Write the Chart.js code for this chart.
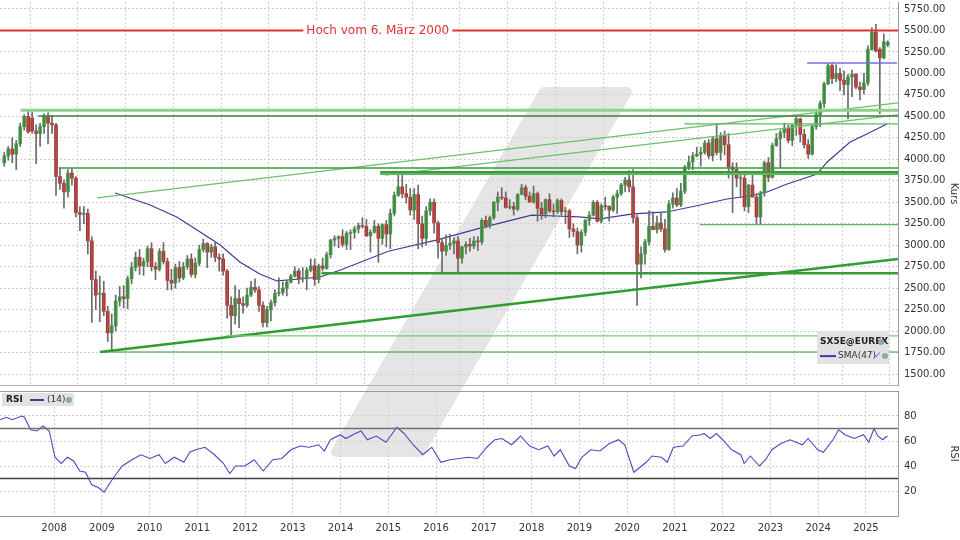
<!DOCTYPE html>
<html><head><meta charset="utf-8">
<script src="https://cdn.jsdelivr.net/npm/chart.js@4/dist/chart.umd.min.js"></script>
<style>
html,body{margin:0;padding:0;background:#fff;width:960px;height:540px;overflow:hidden;font-family:"DejaVu Sans",sans-serif}
#wm{position:absolute;left:0;top:0}
#c1{position:absolute;left:0;top:-10px}
#c2{position:absolute;left:0;top:379px}
</style></head><body>
<svg id="wm" width="960" height="540"><polygon points="544,92 627,92 420,452 336,452" fill="#e5e5e5" stroke="#e5e5e5" stroke-width="10" stroke-linejoin="round"/></svg>
<canvas id="c1" width="960" height="407"></canvas>
<canvas id="c2" width="960" height="161"></canvas>
<script>
// ---- DATA ----
const firstMonth = {year: 2006, month: 12};
const opens = [3960,
4040,4120,4060,4180,4380,4500,4480,4330,4300,4380,4500,4420,
4400,3800,3720,3620,3840,3780,3380,3360,3370,3050,2600,2430,
2440,2230,1980,2060,2350,2400,2380,2610,2740,2860,2760,2810,
2960,2750,2720,2930,2810,2590,2560,2740,2620,2750,2840,2660,
2790,2950,3020,2920,2980,2860,2840,2700,2300,2180,2380,2320,
2300,2420,2510,2480,2300,2100,2250,2330,2440,2450,2500,2570,
2640,2700,2610,2620,2710,2760,2600,2760,2730,2890,3060,3080,
3100,3010,3140,3150,3190,3230,3220,3110,3150,3220,3080,3240,
3130,3370,3580,3680,3600,3560,3410,3590,3250,3080,3400,3500,
3260,3030,2930,3000,3020,3050,2850,2980,3010,2990,3050,3040,
3290,3230,3320,3500,3560,3550,3440,3450,3420,3590,3670,3570,
3500,3600,3430,3360,3530,3400,3390,3520,3390,3400,3190,3160,
3000,3150,3290,3350,3500,3280,3460,3450,3410,3560,3600,3700,
3760,3680,3320,2780,2900,3040,3220,3180,3260,3190,2950,3480,
3550,3470,3630,3910,3970,4040,4060,4080,4190,4040,4240,4080,
4280,4170,3910,3880,3780,3780,3450,3700,3560,3330,3610,3960,
3790,4160,4240,4310,4360,4220,4400,4470,4290,4170,4060,4380,
4520,4650,4880,5090,4940,5000,4920,4870,4960,4990,4840,4810,
4890,5280,5480,5280,5180,5330];
const highs = [4080,
4150,4250,4220,4420,4520,4565,4565,4400,4420,4530,4540,4510,
4420,3900,3760,3880,3890,3800,3450,3450,3420,3100,2700,2640,
2580,2290,2200,2420,2520,2530,2640,2800,2920,2950,2850,2990,
3030,2800,2960,3030,2850,2720,2780,2810,2800,2880,2900,2850,
3000,3070,3030,3010,3040,2900,2900,2720,2400,2530,2480,2400,
2500,2580,2610,2520,2340,2290,2360,2480,2620,2570,2590,2660,
2750,2730,2740,2740,2840,2840,2780,2850,2920,3070,3110,3110,
3180,3160,3180,3220,3260,3320,3300,3180,3290,3250,3250,3290,
3420,3620,3840,3820,3710,3660,3660,3700,3340,3450,3540,3540,
3280,3080,3120,3130,3090,3100,2990,3040,3080,3100,3100,3310,
3340,3340,3510,3620,3670,3620,3530,3500,3600,3710,3700,3620,
3690,3620,3500,3540,3600,3480,3540,3540,3440,3420,3250,3200,
3180,3300,3390,3520,3520,3480,3560,3460,3580,3640,3720,3790,
3870,3880,3350,2980,3070,3400,3390,3340,3370,3300,3520,3610,
3660,3720,3930,4040,4080,4140,4140,4220,4230,4260,4420,4310,
4330,4300,3960,3960,3820,3860,3710,3820,3600,3630,3980,4020,
4190,4300,4340,4420,4400,4400,4490,4480,4350,4230,4400,4560,
4680,4900,5110,5120,5100,5060,5030,4990,5040,5000,4900,5000,
5320,5530,5570,5300,5460,5380];
const lows = [3920,
3990,3960,3880,4150,4340,4300,4300,3950,4150,4300,4180,4300,
3580,3650,3430,3560,3700,3330,3170,3250,2900,2100,2250,2110,
2180,1880,1765,2000,2290,2270,2260,2550,2700,2660,2650,2750,
2700,2600,2700,2780,2480,2480,2500,2570,2600,2720,2630,2620,
2760,2920,2740,2860,2810,2700,2650,2150,1950,2080,2040,2210,
2280,2400,2450,2230,2050,2050,2120,2290,2410,2420,2410,2560,
2630,2550,2570,2480,2690,2530,2560,2700,2720,2850,2990,2970,
2980,2950,2950,3080,3140,3200,3100,2920,3140,2800,3010,2980,
2960,3340,3570,3550,3490,3350,3300,2960,2980,3000,3350,3140,
2850,2670,2880,2950,2900,2680,2790,2900,2930,2960,2940,3010,
3200,3200,3300,3400,3530,3430,3420,3350,3400,3590,3530,3510,
3490,3280,3300,3320,3380,3330,3370,3350,3250,3090,3100,2900,
2920,3110,3230,3340,3270,3260,3410,3280,3390,3370,3580,3620,
3620,3260,2300,2620,2780,3000,3180,3140,3160,2920,2940,3430,
3450,3450,3600,3880,3880,4030,3920,4060,4010,3980,4050,3990,
4050,3780,3380,3680,3560,3400,3380,3560,3250,3250,3570,3740,
3780,4150,3900,4250,4190,4160,4280,4200,4130,4010,4050,4350,
4380,4600,4870,4880,4900,4800,4750,4470,4730,4820,4690,4760,
4860,5270,5250,4530,5170,5310];
const closes = [4040,
4120,4060,4180,4380,4500,4320,4330,4300,4380,4500,4420,4400,
3800,3720,3620,3840,3780,3380,3360,3370,3050,2600,2420,2440,
2230,1980,2060,2350,2400,2380,2610,2740,2860,2760,2810,2960,
2750,2720,2930,2810,2590,2560,2740,2620,2750,2840,2660,2790,
2950,3020,2920,2980,2860,2840,2700,2300,2180,2380,2320,2300,
2420,2510,2480,2300,2100,2250,2330,2440,2450,2500,2570,2640,
2700,2610,2620,2710,2760,2600,2760,2730,2890,3060,3080,3100,
3010,3140,3150,3190,3230,3220,3110,3150,3220,3080,3240,3130,
3370,3580,3680,3600,3560,3410,3590,3250,3080,3400,3500,3260,
3030,2930,3000,3020,3050,2850,2980,3010,2990,3050,3040,3290,
3230,3320,3500,3560,3550,3440,3450,3420,3590,3670,3570,3500,
3600,3430,3360,3530,3400,3390,3520,3390,3400,3190,3160,3000,
3150,3290,3350,3500,3280,3460,3450,3410,3560,3600,3700,3760,
3680,3320,2780,2900,3040,3220,3180,3260,3190,2950,3480,3550,
3470,3630,3910,3970,4040,4060,4080,4190,4040,4240,4080,4280,
4170,3910,3880,3780,3780,3450,3700,3560,3330,3610,3960,3790,
4160,4240,4310,4360,4220,4400,4470,4290,4170,4060,4380,4520,
4650,4880,5090,4940,5000,4920,4870,4960,4990,4840,4810,4890,
5280,5480,5260,5180,5370,5360];
const smaYears = [2009.28,2010.01,2010.57,2011.06,2011.48,2011.89,2012.31,2012.67,2013.15,2013.57,2014.0,2015.0,2016.0,2017.0,2018.0,2018.5,2019.0,2019.43,2020.12,2020.83,2021.53,2022.09,2022.57,2022.93,2023.35,2023.98,2024.19,2024.67,2025.02,2025.44];
const smaValues = [3608,3468,3329,3154,3003,2805,2665,2584,2607,2630,2712,2930,3060,3210,3350,3340,3330,3306,3364,3387,3468,3538,3573,3620,3713,3829,3969,4202,4295,4411];
const rsiYears = [2006.87,2007.0,2007.13,2007.32,2007.38,2007.51,2007.64,2007.77,2007.90,2008.02,2008.15,2008.28,2008.41,2008.54,2008.66,2008.79,2008.92,2009.05,2009.18,2009.31,2009.43,2009.63,2009.82,2010.01,2010.20,2010.33,2010.52,2010.72,2010.84,2010.97,2011.16,2011.36,2011.55,2011.68,2011.80,2012.00,2012.19,2012.38,2012.58,2012.77,2012.96,2013.15,2013.34,2013.54,2013.66,2013.79,2013.99,2014.11,2014.31,2014.43,2014.56,2014.75,2014.95,2015.18,2015.33,2015.52,2015.72,2015.91,2016.10,2016.29,2016.49,2016.68,2016.87,2017.06,2017.23,2017.38,2017.58,2017.77,2017.96,2018.15,2018.34,2018.47,2018.60,2018.79,2018.92,2019.05,2019.24,2019.43,2019.63,2019.82,2019.95,2020.14,2020.27,2020.40,2020.52,2020.72,2020.84,2020.97,2021.17,2021.36,2021.55,2021.61,2021.74,2021.87,2022.00,2022.19,2022.38,2022.45,2022.58,2022.77,2022.90,2023.03,2023.22,2023.41,2023.54,2023.67,2023.79,2023.99,2024.11,2024.31,2024.43,2024.56,2024.76,2024.95,2025.06,2025.17,2025.25,2025.35,2025.45];
const rsiValues = [77,79,77,80,79,69,68,72,68,47,42,47,44,36,35,25,23,19,27,34,40,45,49,46,49,42,47,43,51,53,55,49,42,34,40,40,45,36,45,46,53,56,55,57,52,61,65,62,66,68,61,64,59,71,66,57,49,55,43,45,46,47,46,55,61,62,57,64,56,53,56,48,53,40,38,47,53,52,58,61,57,35,39,43,48,47,43,55,56,64,65,66,62,66,61,53,49,42,48,40,45,53,58,61,59,57,62,53,51,61,69,65,62,65,59,70,64,61,64,64];
const kursTicks = [1500,1750,2000,2250,2500,2750,3000,3250,3500,3750,4000,4250,4500,4750,5000,5250,5500,5750];
const rsiTicks = [20,40,60,80];
const yearTicks = [2008,2009,2010,2011,2012,2013,2014,2015,2016,2017,2018,2019,2020,2021,2022,2023,2024,2025];
const hLevels = [
 [2007.30,4570,'#8fd08f',3],[2007.67,4505,'#2e8b2e',1.5],[2008.10,3900,'#3a9a3a',1.5],
 [2014.83,3852,'#3a9a3a',2],[2014.83,3830,'#5cb85c',2],[2021.20,4413,'#5cb85c',1.2],
 [2021.52,3240,'#5cb85c',1.2],[2013.60,2675,'#3a9a3a',2.5],[2011.60,1945,'#7cc47c',1.2],
 [2009.00,1757,'#3a9a3a',1.2]];
const trendLines = [
 [2008.96,1757,2025.67,2840,'#2e9e2e',2.5],
 [2008.90,3550,2025.67,4656,'#6cc06c',1.3],
 [2014.93,3815,2025.67,4516,'#6cc06c',1.3]];
const resistance = {fromYear:2006.87, value:5500, label:'Hoch vom 6. März 2000', labelYear:2014.78};
const blueLevel = {fromYear:2023.77, toYear:2025.65, value:5122};

// ---- BUILD ----
const X_MIN = 2006.869, X_MAX = 2025.672;
const mx = i => firstMonth.year + (firstMonth.month - 1 + i + 0.5) / 12;
const up = i => closes[i] >= opens[i];
const wickData = highs.map((h,i)=>({x:mx(i), y:[lows[i], h]}));
const bodyData = opens.map((o,i)=>({x:mx(i), y:[Math.min(o,closes[i]), Math.max(o,closes[i]) + (o===closes[i]?8:0)]}));
const gridC = '#cfcfcf';
const fontTick = {family:'DejaVu Sans', size:10};
const lineDS = (data,color,width,extra={}) => Object.assign({type:'line', data, borderColor:color, borderWidth:width, pointRadius:0, fill:false, tension:0}, extra);

const ds1 = [];
ds1.push(lineDS([{x:X_MIN,y:resistance.value},{x:X_MAX,y:resistance.value}],'#e23030',2));
hLevels.forEach(l=>ds1.push(lineDS([{x:l[0],y:l[1]},{x:X_MAX,y:l[1]}],l[2],l[3])));
trendLines.forEach(t=>ds1.push(lineDS([{x:t[0],y:t[1]},{x:t[2],y:t[3]}],t[4],t[5])));
ds1.push(lineDS([{x:blueLevel.fromYear,y:blueLevel.value},{x:blueLevel.toYear,y:blueLevel.value}],'#7070e0',1.5));
ds1.push({type:'bar', data:wickData, backgroundColor:'#6a6a6a', barThickness:1, grouped:false});
ds1.push({type:'bar', data:bodyData, backgroundColor:bodyData.map((d,i)=>up(i)?'#2fb52f':'#e01818'), barThickness:3, grouped:false});
ds1.push(lineDS(smaYears.map((y,i)=>({x:y,y:smaValues[i]})),'#3c3c9c',1.2));

const overlay1 = {id:'ov1', afterDatasetsDraw(ch){
  const c=ch.ctx, xs=ch.scales.x, ys=ch.scales.y;
  c.save();
  c.font='12px "DejaVu Sans"';
  const px=xs.getPixelForValue(resistance.labelYear), py=ys.getPixelForValue(resistance.value);
  const w=c.measureText(resistance.label).width;
  c.fillStyle='#fff'; c.fillRect(px-w/2-3,py-8,w+6,16);
  c.fillStyle='#e23030'; c.textAlign='center'; c.textBaseline='middle'; c.fillText(resistance.label,px,py);
  const r=ch.chartArea.right, b=ys.getPixelForValue(1500);
  const top=b-43;
  c.fillStyle='#e2e2e2'; c.fillRect(r-81,top,72,33);
  c.textAlign='left'; c.fillStyle='#222'; c.font='bold 9px "DejaVu Sans"'; c.fillText('SX5E@EUREX',r-78,top+11);
  c.fillStyle='#8aa'; c.beginPath(); c.arc(r-17,top+11,3,0,7); c.fill();
  c.strokeStyle='#3c3c9c'; c.lineWidth=2; c.beginPath(); c.moveTo(r-78,top+25); c.lineTo(r-62,top+25); c.stroke();
  c.fillStyle='#333'; c.font='9px "DejaVu Sans"'; c.fillText('SMA(47)',r-60,top+25);
  c.fillStyle='#3a7ad0'; c.fillText('✓',r-24,top+25);
  c.fillStyle='#8aa'; c.beginPath(); c.arc(r-13,top+25,3,0,7); c.fill();
  c.restore();
}};

new Chart(document.getElementById('c1'),{
  data:{datasets:ds1},
  plugins:[overlay1],
  options:{responsive:false, animation:false, layout:{padding:0},
    plugins:{legend:{display:false}, tooltip:{enabled:false}},
    scales:{
      x:{type:'linear', min:X_MIN, max:X_MAX, offset:false,
        afterBuildTicks:s=>{s.ticks=yearTicks.map(v=>({value:v}));},
        afterFit:s=>{s.height=1;},
        ticks:{display:false}, grid:{color:gridC, tickLength:0, drawTicks:false}, border:{color:'#b0b0b0', dash:[2,2]}},
      y:{position:'right', min:1373, max:5831,
        afterBuildTicks:s=>{s.ticks=kursTicks.map(v=>({value:v}));},
        afterFit:s=>{s.width=62;},
        ticks:{font:fontTick, color:'#333', padding:6, callback:v=>v.toFixed(2)},
        grid:{color:gridC, drawTicks:false}, border:{color:'#999', dash:[2,2]},
        title:{display:true, text:'Kurs', font:{family:'DejaVu Sans', size:10}, color:'#333', padding:0}}
    }}
});

const ds2 = [
  lineDS([{x:X_MIN,y:70},{x:X_MAX,y:70}],'#707070',1.5),
  lineDS([{x:X_MIN,y:30},{x:X_MAX,y:30}],'#404040',1.5),
  lineDS(rsiYears.map((y,i)=>({x:y,y:rsiValues[i]})),'#4a4ac0',1.1)
];
const overlay2 = {id:'ov2', afterDatasetsDraw(ch){
  const c=ch.ctx; c.save();
  const t=ch.chartArea.top;
  c.fillStyle='#e2e2e2'; c.fillRect(2,t+2,72,13);
  c.fillStyle='#222'; c.font='bold 9px "DejaVu Sans"'; c.textBaseline='middle'; c.fillText('RSI',6,t+9);
  c.strokeStyle='#3c3c9c'; c.lineWidth=2; c.beginPath(); c.moveTo(30,t+9); c.lineTo(44,t+9); c.stroke();
  c.fillStyle='#333'; c.font='9px "DejaVu Sans"'; c.fillText('(14)',47,t+9);
  c.fillStyle='#8aa'; c.beginPath(); c.arc(69,t+9,3,0,7); c.fill();
  c.strokeStyle='#999'; c.lineWidth=1; c.beginPath(); c.moveTo(0,t+0.5); c.lineTo(ch.chartArea.right,t+0.5); c.stroke();
  c.restore();
}};
new Chart(document.getElementById('c2'),{
  data:{datasets:ds2},
  plugins:[overlay2],
  options:{responsive:false, animation:false, layout:{padding:{top:3}},
    plugins:{legend:{display:false}, tooltip:{enabled:false}},
    scales:{
      x:{type:'linear', min:X_MIN, max:X_MAX,
        afterBuildTicks:s=>{s.ticks=yearTicks.map(v=>({value:v}));},
        afterFit:s=>{s.height=24;},
        ticks:{font:fontTick, color:'#333', padding:6, maxRotation:0, autoSkip:false, callback:v=>String(v)},
        grid:{color:gridC, tickLength:0, drawTicks:false}, border:{color:'#999', dash:[2,2]}},
      y:{position:'right', min:0, max:100,
        afterBuildTicks:s=>{s.ticks=rsiTicks.map(v=>({value:v}));},
        afterFit:s=>{s.width=62;},
        ticks:{font:fontTick, color:'#333', padding:6},
        grid:{color:gridC, drawTicks:false}, border:{color:'#999', dash:[2,2]},
        title:{display:true, text:'RSI', font:{family:'DejaVu Sans', size:10}, color:'#333', padding:0}}
    }}
});
</script></body></html>
